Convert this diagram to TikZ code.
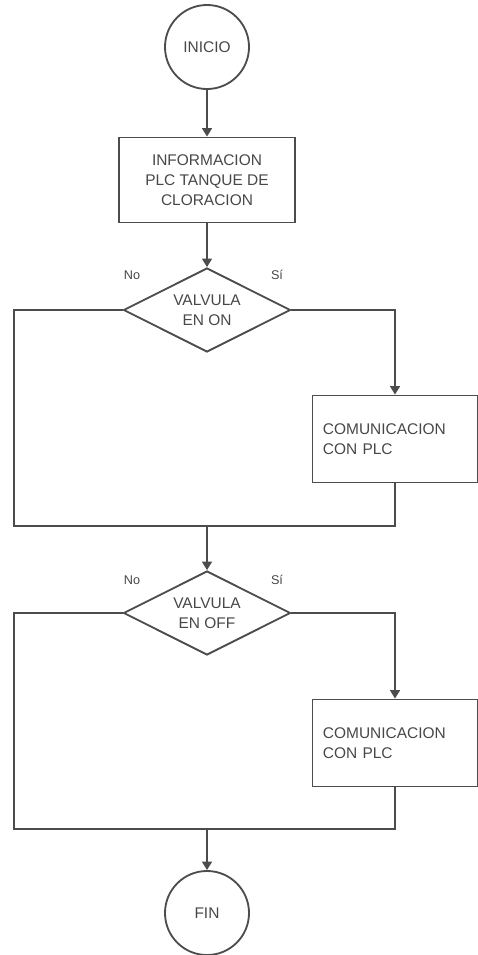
\documentclass[tikz,border=0pt]{standalone}
\usepackage{fontspec}
\setmainfont{Liberation Sans}
\usetikzlibrary{shapes.geometric, arrows.meta}
\definecolor{linea}{gray}{0.3}
\definecolor{texto}{gray}{0.28}
\begin{document}
\begin{tikzpicture}[x=0.025cm, y=-0.025cm, >={Triangle[length=6pt, width=7pt]},
	font=\fontsize{11}{14}\selectfont, text=texto, draw=linea, line width=1.3pt,
	inicio/.style={circle, draw, minimum size=2.1cm, inner sep=0pt},
	proceso/.style={rectangle, draw, minimum width=4.4cm, minimum height=2.125cm, align=center},
	decision/.style={diamond, draw, aspect=2, minimum width=4.175cm, minimum height=2.1cm, inner sep=0pt, align=center},
	accion/.style={rectangle, draw, minimum width=4.125cm, minimum height=2.175cm, text width=3.6cm, align=left},
	rama/.style={font=\fontsize{9}{10}\selectfont}]
		\useasboundingbox (0,0) rectangle (478,955);
		\node[inicio] (ini) at (207,47) {INICIO};
		\node[proceso] (info) at (207,180) {INFORMACION\\PLC TANQUE DE\\CLORACION};
		\draw[->] (ini) -- (info);
		% primera decision
		\node[decision] (von) at (207,310) {VALVULA\\EN ON};
		\draw[->] (info) -- (von);
		\node[rama] at (132,275) {No};
		\node[rama] at (277,275) {Sí};
		\node[accion] (com1) at (395,439) {COMUNICACION\\CON PLC};
		\draw[->] (von.east) -| (com1.north);
		\coordinate (a1) at (14,526);
		\coordinate (b1) at (com1.south |- a1);
		\coordinate (j1) at (von.south |- a1);
		\draw (von.west) -| (a1) -- (b1) -- (com1.south);
		% segunda decision
		\node[decision] (voff) at (207,613) {VALVULA\\EN OFF};
		\draw[->] (j1) -- (voff);
		\node[rama] at (132,580) {No};
		\node[rama] at (277,580) {Sí};
		\node[accion] (com2) at (395,743) {COMUNICACION\\CON PLC};
		\draw[->] (voff.east) -| (com2.north);
		\coordinate (a2) at (14,829);
		\coordinate (b2) at (com2.south |- a2);
		\coordinate (j2) at (voff.south |- a2);
		\draw (voff.west) -| (a2) -- (b2) -- (com2.south);
		\node[inicio] (fin) at (207,913) {FIN};
		\draw[->] (j2) -- (fin);
	\end{tikzpicture}
\end{document}
